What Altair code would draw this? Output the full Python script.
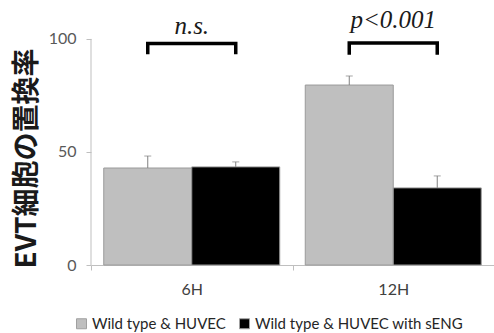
import altair as alt
import pandas as pd

categories = ["6H", "12H"]
groups = ["Wild type & HUVEC", "Wild type & HUVEC with sENG"]
means_wt = [42.9, 79.6]
means_seng = [43.4, 34.1]
err_wt = [5.3, 4.0]
err_seng = [2.2, 5.3]
bracket_low = [94.0, 93.8]
bracket_high = [98.0, 98.2]
sig_labels = ["n.s.", "p<0.001"]
sig_y = [105.8, 108.4]

rows = []
for i, c in enumerate(categories):
    rows.append({"cat": c, "grp": groups[0], "mean": means_wt[i], "top": means_wt[i] + err_wt[i]})
    rows.append({"cat": c, "grp": groups[1], "mean": means_seng[i], "top": means_seng[i] + err_seng[i]})
bars_df = pd.DataFrame(rows)

brows = []
for i, c in enumerate(categories):
    brows += [
        {"cat": c, "grp": groups[0], "y": bracket_low[i], "o": 0},
        {"cat": c, "grp": groups[0], "y": bracket_high[i], "o": 1},
        {"cat": c, "grp": groups[1], "y": bracket_high[i], "o": 2},
        {"cat": c, "grp": groups[1], "y": bracket_low[i], "o": 3},
    ]
br_df = pd.DataFrame(brows)
txt_df = pd.DataFrame({"cat": categories, "label": sig_labels, "y": sig_y})

FONT = "Lato"
x_enc = alt.X("cat:N", sort=categories, title=None,
              scale=alt.Scale(paddingInner=0, paddingOuter=0),
              axis=alt.Axis(labelAngle=0, tickBand="extent", tickSize=5, tickColor="#bfbfbf",
                            domainColor="#bfbfbf", labelFont=FONT, labelFontSize=16,
                            labelColor="#404040", labelPadding=11))
xoff = alt.XOffset("grp:N", sort=groups, scale=alt.Scale(paddingInner=0, paddingOuter=0.145))
y_scale = alt.Scale(domain=[0, 115], nice=False)
y_enc = alt.Y("mean:Q", scale=y_scale,
              axis=alt.Axis(values=[0, 50, 100], grid=False, domain=False, tickSize=5,
                            tickColor="#bfbfbf", labelFont=FONT, labelFontSize=16,
                            labelColor="#595959", labelPadding=10,
                            title="EVT細胞の置換率", titleFont="Noto Sans CJK JP",
                            titleFontSize=28, titleFontWeight="bold", titleColor="#1a1a1a",
                            titleAngle=-90, titleX=-64, titleY=153, titleAlign="center",
                            titleBaseline="middle"))

color = alt.Color("grp:N", sort=groups,
                  scale=alt.Scale(domain=groups, range=["#bfbfbf", "#000000"]),
                  legend=alt.Legend(orient="none", legendX=-17, legendY=311, direction="horizontal",
                                    title=None, symbolType="square", symbolSize=100,
                                    symbolStrokeWidth=1, symbolStrokeColor="#a0a0a0",
                                    labelFont=FONT, labelFontSize=15, labelColor="#262626",
                                    labelOffset=3, labelLimit=400, columnPadding=11, padding=0))

bars = alt.Chart(bars_df).mark_bar(stroke="#9a9a9a", strokeWidth=1).encode(
    x=x_enc, xOffset=xoff, y=y_enc, color=color)

err = alt.Chart(bars_df).mark_rule(color="#808080", strokeWidth=1).encode(
    x=alt.X("cat:N", sort=categories), xOffset=xoff, y="mean:Q", y2="top:Q")
caps = alt.Chart(bars_df).mark_tick(color="#808080", thickness=1, size=7, orient="horizontal").encode(
    x=alt.X("cat:N", sort=categories), xOffset=xoff, y="top:Q")

brackets = alt.Chart(br_df).mark_line(color="black", strokeWidth=3.5, strokeCap="square",
                                      strokeJoin="miter").encode(
    x=alt.X("cat:N", sort=categories), xOffset=xoff, y="y:Q", order="o:Q", detail="cat:N")

texts = alt.Chart(txt_df).mark_text(font="Liberation Serif", fontStyle="italic", fontSize=25,
                                    color="#1a1a1a", baseline="middle").encode(
    x=alt.X("cat:N", sort=categories), y="y:Q", text="label:N")

yline = alt.Chart(pd.DataFrame({"a": [0]})).mark_rule(color="#bfbfbf").encode(
    x=alt.value(0), y=alt.datum(0), y2=alt.datum(100))

chart = alt.layer(bars, err, caps, brackets, texts, yline).properties(
    width=403, height=260,
    padding={"left": 91, "top": 5, "right": 0, "bottom": 68},
    autosize=alt.AutoSizeParams(type="none"),
    background="white",
).configure_view(stroke=None)

chart.save("out.html", embed_options={"renderer": "svg", "actions": False})
